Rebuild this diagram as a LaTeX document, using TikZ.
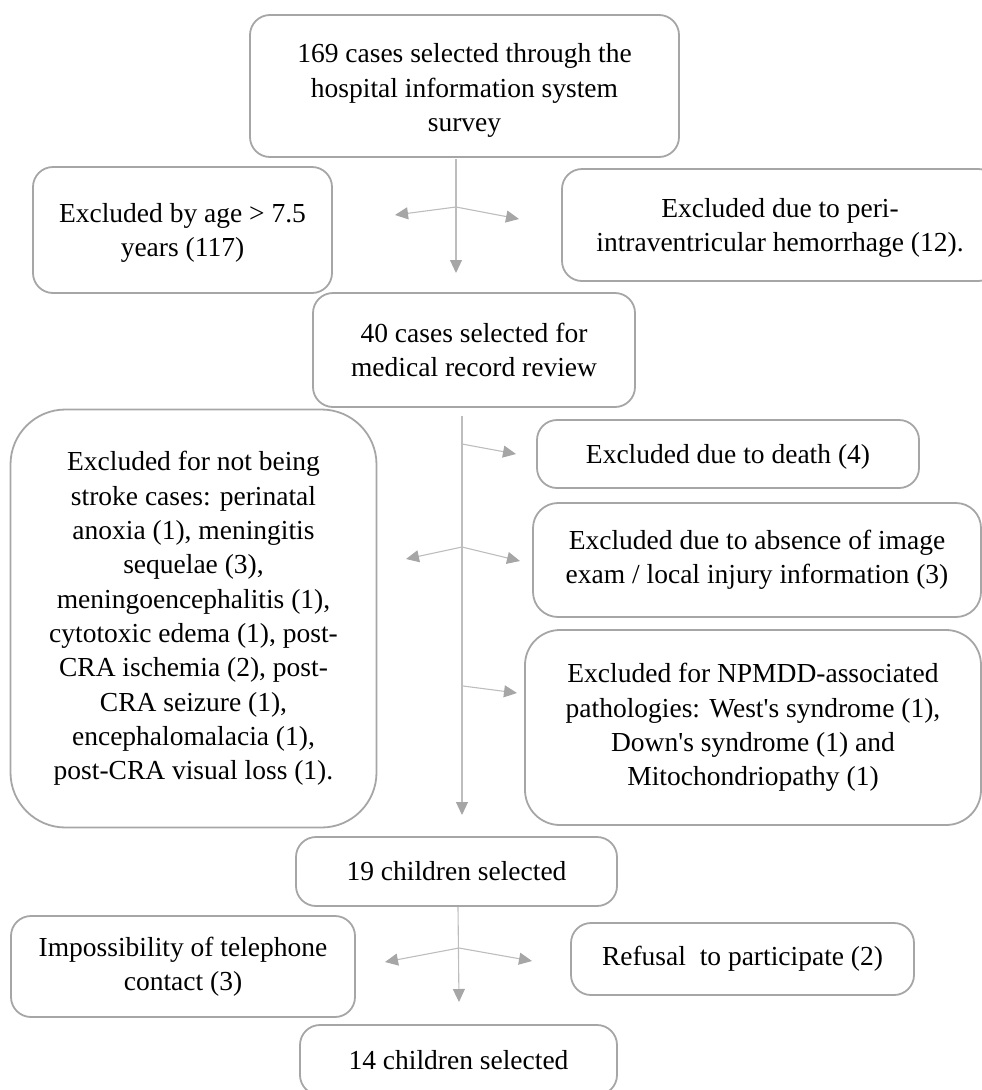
\documentclass[tikz,border=0pt]{standalone}
\usepackage{fontspec}
\setmainfont{Liberation Serif}
\usetikzlibrary{arrows.meta}
\definecolor{boxgray}{HTML}{A6A6A6}
\definecolor{linegray}{HTML}{BDBDBD}
\definecolor{tipgray}{HTML}{A6A6A6}
\newcommand\tstrut[1]{\rule{0pt}{#1}}
\begin{document}
\begin{tikzpicture}[x=1pt,y=-1pt,
  flowbox/.style={draw=boxgray, line width=1.8pt, rounded corners=20pt, inner sep=0pt,
    align=center, font=\fontsize{27.5}{34.3}\selectfont, text=black},
  flowarrow/.style={draw=linegray, line width=1.1pt,
    -{Triangle[length=13pt,width=12pt,color=tipgray]}}]
\useasboundingbox (0,0) rectangle (982,1090);

% boxes
\node[flowbox, minimum width=429pt, minimum height=142pt] (top) at (464.5,86)
  {\tstrut{28.5pt}169 cases selected through the\\hospital information system\\survey};
\node[flowbox, minimum width=299pt, minimum height=126pt] (age) at (182.5,230)
  {\tstrut{24.5pt}Excluded by age > 7.5\\years (117)};
\node[flowbox, minimum width=436pt, minimum height=112pt] (peri) at (780,225)
  {\tstrut{25pt}Excluded due to peri-\\intraventricular hemorrhage (12).};
\node[flowbox, minimum width=322pt, minimum height=114pt] (forty) at (474,350)
  {40 cases selected for\\medical record review};
\node[flowbox, rounded corners=55pt, minimum width=366pt, minimum height=418pt] (stroke) at (193.5,618.5)
  {Excluded for not being\\stroke cases: perinatal\\anoxia (1), meningitis\\sequelae (3),\\meningoencephalitis (1),\\cytotoxic edema (1), post-\\CRA ischemia (2), post-\\CRA seizure (1),\\encephalomalacia (1),\\post-CRA visual loss (1).};
\node[flowbox, minimum width=382pt, minimum height=68pt] (death) at (728,454)
  {\tstrut{24.5pt}Excluded due to death (4)};
\node[flowbox, rounded corners=25pt, minimum width=448pt, minimum height=114pt] (absence) at (757,560)
  {Excluded due to absence of image\\exam / local injury information (3)};
\node[flowbox, rounded corners=35pt, minimum width=456pt, minimum height=195pt] (npmdd) at (753,727.5)
  {Excluded for NPMDD-associated\\pathologies: West\textquotesingle s syndrome (1),\\Down\textquotesingle s syndrome (1) and\\Mitochondriopathy (1)};
\node[flowbox, minimum width=321pt, minimum height=69pt] (nineteen) at (456.5,871.5)
  {19 children selected};
\node[flowbox, minimum width=344pt, minimum height=101pt] (phone) at (183,966.5)
  {Impossibility of telephone\\contact (3)};
\node[flowbox, minimum width=343pt, minimum height=72pt] (refusal) at (742.5,959)
  {Refusal\ \ to participate (2)};
\node[flowbox, minimum width=317pt, minimum height=70pt] (fourteen) at (458.5,1060)
  {14 children selected};

% connector coordinates
\coordinate (a1s) at (456,159);
\coordinate (a1e) at (456,273);
\coordinate (j1) at (456,207);
\coordinate (l1) at (395,215);
\coordinate (r1) at (519,219);

\coordinate (a2s) at (462,416);
\coordinate (a2e) at (462,815);
\coordinate (d2s) at (462,444);
\coordinate (d2e) at (516,454);
\coordinate (j2) at (462,547);
\coordinate (l2) at (406,559);
\coordinate (r2) at (520,561);
\coordinate (n2s) at (463,686);
\coordinate (n2e) at (517,693);

\coordinate (a3s) at (458,907);
\coordinate (a3e) at (459,1002);
\coordinate (j3) at (459,948);
\coordinate (l3) at (385,962);
\coordinate (r3) at (532,961);

% connectors
\draw[flowarrow] (a1s) -- (a1e);
\draw[flowarrow] (j1) -- (l1);
\draw[flowarrow] (j1) -- (r1);

\draw[flowarrow] (a2s) -- (a2e);
\draw[flowarrow] (d2s) -- (d2e);
\draw[flowarrow] (j2) -- (l2);
\draw[flowarrow] (j2) -- (r2);
\draw[flowarrow] (n2s) -- (n2e);

\draw[flowarrow] (a3s) -- (a3e);
\draw[flowarrow] (j3) -- (l3);
\draw[flowarrow] (j3) -- (r3);
\end{tikzpicture}
\end{document}
